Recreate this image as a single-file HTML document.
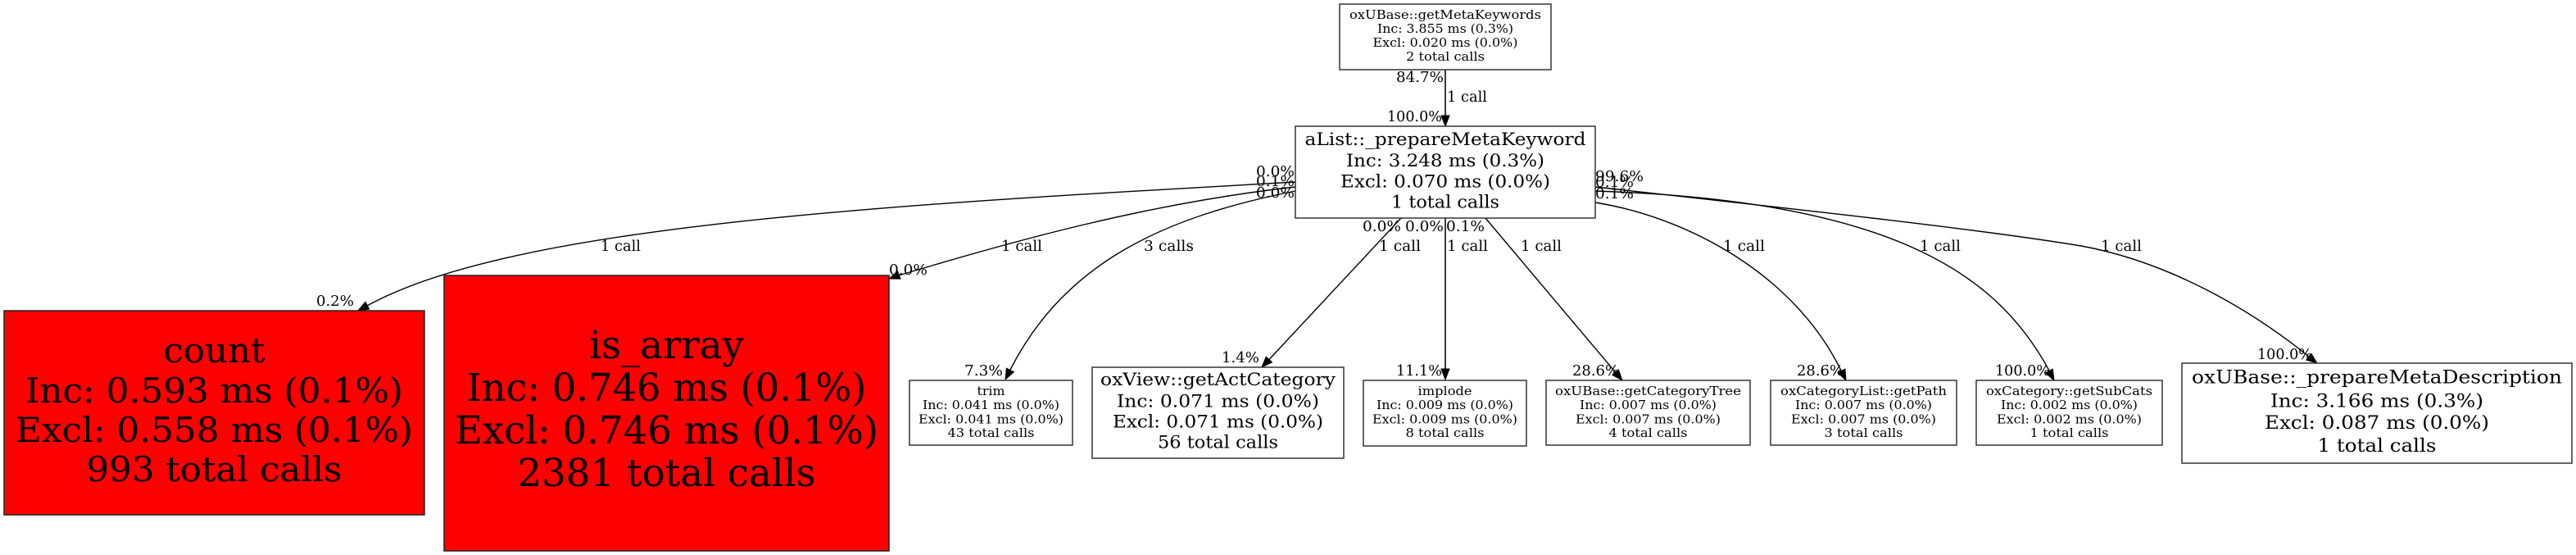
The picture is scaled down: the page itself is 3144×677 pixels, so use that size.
<!DOCTYPE html>
<html>
<head>
<meta charset="utf-8">
<style>
  html, body { margin: 0; padding: 0; background: #ffffff; }
  body { width: 3144px; height: 677px; overflow: hidden; }
  svg { display: block; }
  text { font-family: "DejaVu Serif", "Liberation Serif", serif; fill: #000; }
  .s { font-size: 14.5px; }
  .m { font-size: 21px; }
  .d { font-size: 22.5px; }
  .c { font-size: 42px; }
  .a { font-size: 47px; }
  .l { font-size: 17.5px; }
  .box { fill: #fff; stroke: #333; stroke-width: 1.5; }
  .red { fill: #ff0000; stroke: #222; stroke-width: 1.5; }
  .e { fill: none; stroke: #000; stroke-width: 1.4; }
  .ev { fill: none; stroke: #3a3a3a; stroke-width: 2; }
  .ah { fill: #000; stroke: #000; stroke-width: 1; }
</style>
</head>
<body>
<svg width="3144" height="677" viewBox="0 0 3144 677" xmlns="http://www.w3.org/2000/svg">
  <rect x="0" y="0" width="3144" height="677" fill="#fff"/>

  <!-- ===== Edges ===== -->
  <!-- top -> main -->
  <line class="ev" x1="1764" y1="85" x2="1764" y2="142"/>
  <polygon class="ah" points="1764,154 1759,141 1769,141"/>

  <!-- main -> count -->
  <path class="e" d="M1581,222 C1081,250 625,275 448,373"/>
  <polygon class="ah" points="437,379 450.8,377.1 446,368.3"/>

  <!-- main -> is_array -->
  <path class="e" d="M1581,228 C1400,248 1230,296 1097,336"/>
  <polygon class="ah" points="1085,340 1099,340.1 1095.5,330.7"/>

  <!-- main -> trim -->
  <path class="e" d="M1581,233 C1420,265 1300,320 1233,451"/>
  <polygon class="ah" points="1227,463 1237.4,453.7 1228.4,449.1"/>

  <!-- main -> oxView -->
  <line class="e" x1="1710" y1="266" x2="1549" y2="438.5"/>
  <polygon class="ah" points="1540,448 1552.5,441.9 1545.2,435.1"/>

  <!-- main -> implode -->
  <line class="ev" x1="1764" y1="266" x2="1764" y2="451"/>
  <polygon class="ah" points="1764,463 1759,450 1769,450"/>

  <!-- main -> getCategoryTree -->
  <line class="e" x1="1813" y1="266" x2="1971.6" y2="454.1"/>
  <polygon class="ah" points="1980,464 1975.4,450.9 1967.8,457.3"/>

  <!-- main -> getPath -->
  <path class="e" d="M1947,247 C2060,265 2190,335 2247,452"/>
  <polygon class="ah" points="2253,464 2251.9,450.1 2242.9,454.5"/>

  <!-- main -> getSubCats -->
  <path class="e" d="M1947,233 C2320,245 2440,340 2501,452"/>
  <polygon class="ah" points="2507,464 2505.3,450.2 2496.5,455"/>

  <!-- main -> _prepareMetaDescription -->
  <path class="e" d="M1947,228 C2200,256 2420,280 2540,300 C2650,320 2750,380 2818,435"/>
  <polygon class="ah" points="2828,443 2820.8,431.2 2814.7,439.1"/>

  <!-- ===== Nodes ===== -->
  <!-- getMetaKeywords -->
  <rect class="box" x="1635" y="5" width="258" height="80"/>
  <text class="s" x="1764" y="23" text-anchor="middle" textLength="234" lengthAdjust="spacingAndGlyphs">oxUBase::getMetaKeywords</text>
  <text class="s" x="1764" y="40" text-anchor="middle" textLength="166" lengthAdjust="spacingAndGlyphs">Inc: 3.855 ms (0.3%)</text>
  <text class="s" x="1764" y="57" text-anchor="middle" textLength="177" lengthAdjust="spacingAndGlyphs">Excl: 0.020 ms (0.0%)</text>
  <text class="s" x="1764" y="74" text-anchor="middle" textLength="96" lengthAdjust="spacingAndGlyphs">2 total calls</text>

  <!-- main -->
  <rect class="box" x="1581" y="154" width="366" height="112"/>
  <text class="m" x="1764" y="177" text-anchor="middle" textLength="343" lengthAdjust="spacingAndGlyphs">aList::_prepareMetaKeyword</text>
  <text class="m" x="1764" y="203" text-anchor="middle" textLength="242" lengthAdjust="spacingAndGlyphs">Inc: 3.248 ms (0.3%)</text>
  <text class="m" x="1764" y="228.5" text-anchor="middle" textLength="256" lengthAdjust="spacingAndGlyphs">Excl: 0.070 ms (0.0%)</text>
  <text class="m" x="1764" y="253.5" text-anchor="middle" textLength="132" lengthAdjust="spacingAndGlyphs">1 total calls</text>

  <!-- count -->
  <rect class="red" x="5" y="379" width="513" height="249"/>
  <text class="c" x="261.5" y="442" text-anchor="middle" textLength="124" lengthAdjust="spacingAndGlyphs">count</text>
  <text class="c" x="261.5" y="491" text-anchor="middle" textLength="461" lengthAdjust="spacingAndGlyphs">Inc: 0.593 ms (0.1%)</text>
  <text class="c" x="261.5" y="539" text-anchor="middle" textLength="485" lengthAdjust="spacingAndGlyphs">Excl: 0.558 ms (0.1%)</text>
  <text class="c" x="261.5" y="587" text-anchor="middle" textLength="312" lengthAdjust="spacingAndGlyphs">993 total calls</text>

  <!-- is_array -->
  <rect class="red" x="542" y="336" width="543" height="336"/>
  <text class="a" x="813.5" y="437" text-anchor="middle" textLength="189" lengthAdjust="spacingAndGlyphs">is_array</text>
  <text class="a" x="813.5" y="489" text-anchor="middle" textLength="488" lengthAdjust="spacingAndGlyphs">Inc: 0.746 ms (0.1%)</text>
  <text class="a" x="813.5" y="541" text-anchor="middle" textLength="517" lengthAdjust="spacingAndGlyphs">Excl: 0.746 ms (0.1%)</text>
  <text class="a" x="813.5" y="593" text-anchor="middle" textLength="364" lengthAdjust="spacingAndGlyphs">2381 total calls</text>

  <!-- trim -->
  <rect class="box" x="1110" y="464" width="199" height="79"/>
  <text class="s" x="1209.5" y="482" text-anchor="middle" textLength="34" lengthAdjust="spacingAndGlyphs">trim</text>
  <text class="s" x="1209.5" y="499" text-anchor="middle" textLength="167" lengthAdjust="spacingAndGlyphs">Inc: 0.041 ms (0.0%)</text>
  <text class="s" x="1209.5" y="516.5" text-anchor="middle" textLength="177" lengthAdjust="spacingAndGlyphs">Excl: 0.041 ms (0.0%)</text>
  <text class="s" x="1209.5" y="533" text-anchor="middle" textLength="106" lengthAdjust="spacingAndGlyphs">43 total calls</text>

  <!-- oxView::getActCategory -->
  <rect class="box" x="1333" y="448" width="307" height="111"/>
  <text class="m" x="1486.5" y="470" text-anchor="middle" textLength="287" lengthAdjust="spacingAndGlyphs">oxView::getActCategory</text>
  <text class="m" x="1486.5" y="496.5" text-anchor="middle" textLength="247" lengthAdjust="spacingAndGlyphs">Inc: 0.071 ms (0.0%)</text>
  <text class="m" x="1486.5" y="521.5" text-anchor="middle" textLength="257" lengthAdjust="spacingAndGlyphs">Excl: 0.071 ms (0.0%)</text>
  <text class="m" x="1486.5" y="546.5" text-anchor="middle" textLength="147" lengthAdjust="spacingAndGlyphs">56 total calls</text>

  <!-- implode -->
  <rect class="box" x="1664" y="464" width="199" height="80"/>
  <text class="s" x="1763.5" y="482" text-anchor="middle" textLength="66" lengthAdjust="spacingAndGlyphs">implode</text>
  <text class="s" x="1763.5" y="499" text-anchor="middle" textLength="167" lengthAdjust="spacingAndGlyphs">Inc: 0.009 ms (0.0%)</text>
  <text class="s" x="1763.5" y="516.5" text-anchor="middle" textLength="177" lengthAdjust="spacingAndGlyphs">Excl: 0.009 ms (0.0%)</text>
  <text class="s" x="1763.5" y="533" text-anchor="middle" textLength="96" lengthAdjust="spacingAndGlyphs">8 total calls</text>

  <!-- getCategoryTree -->
  <rect class="box" x="1887" y="464" width="249" height="79"/>
  <text class="s" x="2011.5" y="482" text-anchor="middle" textLength="227" lengthAdjust="spacingAndGlyphs">oxUBase::getCategoryTree</text>
  <text class="s" x="2011.5" y="499" text-anchor="middle" textLength="167" lengthAdjust="spacingAndGlyphs">Inc: 0.007 ms (0.0%)</text>
  <text class="s" x="2011.5" y="516.5" text-anchor="middle" textLength="177" lengthAdjust="spacingAndGlyphs">Excl: 0.007 ms (0.0%)</text>
  <text class="s" x="2011.5" y="533" text-anchor="middle" textLength="96" lengthAdjust="spacingAndGlyphs">4 total calls</text>

  <!-- getPath -->
  <rect class="box" x="2161" y="464" width="227" height="79"/>
  <text class="s" x="2274.5" y="482" text-anchor="middle" textLength="203" lengthAdjust="spacingAndGlyphs">oxCategoryList::getPath</text>
  <text class="s" x="2274.5" y="499" text-anchor="middle" textLength="167" lengthAdjust="spacingAndGlyphs">Inc: 0.007 ms (0.0%)</text>
  <text class="s" x="2274.5" y="516.5" text-anchor="middle" textLength="177" lengthAdjust="spacingAndGlyphs">Excl: 0.007 ms (0.0%)</text>
  <text class="s" x="2274.5" y="533" text-anchor="middle" textLength="96" lengthAdjust="spacingAndGlyphs">3 total calls</text>

  <!-- getSubCats -->
  <rect class="box" x="2412" y="464" width="227" height="79"/>
  <text class="s" x="2525.5" y="482" text-anchor="middle" textLength="203" lengthAdjust="spacingAndGlyphs">oxCategory::getSubCats</text>
  <text class="s" x="2525.5" y="499" text-anchor="middle" textLength="167" lengthAdjust="spacingAndGlyphs">Inc: 0.002 ms (0.0%)</text>
  <text class="s" x="2525.5" y="516.5" text-anchor="middle" textLength="177" lengthAdjust="spacingAndGlyphs">Excl: 0.002 ms (0.0%)</text>
  <text class="s" x="2525.5" y="533" text-anchor="middle" textLength="96" lengthAdjust="spacingAndGlyphs">1 total calls</text>

  <!-- _prepareMetaDescription -->
  <rect class="box" x="2663" y="443" width="476" height="122"/>
  <text class="d" x="2901" y="467.5" text-anchor="middle" textLength="452" lengthAdjust="spacingAndGlyphs">oxUBase::_prepareMetaDescription</text>
  <text class="d" x="2901" y="496.5" text-anchor="middle" textLength="260" lengthAdjust="spacingAndGlyphs">Inc: 3.166 ms (0.3%)</text>
  <text class="d" x="2901" y="523" text-anchor="middle" textLength="274" lengthAdjust="spacingAndGlyphs">Excl: 0.087 ms (0.0%)</text>
  <text class="d" x="2901" y="551" text-anchor="middle" textLength="145" lengthAdjust="spacingAndGlyphs">1 total calls</text>

  <!-- ===== Edge labels ===== -->
  <text class="l" x="1762" y="100" text-anchor="end" textLength="58" lengthAdjust="spacingAndGlyphs">84.7%</text>
  <text class="l" x="1766" y="124" textLength="49" lengthAdjust="spacingAndGlyphs">1 call</text>
  <text class="l" x="1760" y="148" text-anchor="end" textLength="67" lengthAdjust="spacingAndGlyphs">100.0%</text>

  <!-- left of main -->
  <text class="l" x="1580" y="215" text-anchor="end" textLength="47" lengthAdjust="spacingAndGlyphs">0.0%</text>
  <text class="l" x="1580" y="227" text-anchor="end" textLength="47" lengthAdjust="spacingAndGlyphs">0.1%</text>
  <text class="l" x="1580" y="241" text-anchor="end" textLength="47" lengthAdjust="spacingAndGlyphs">0.0%</text>

  <!-- right of main -->
  <text class="l" x="1947" y="221" textLength="59" lengthAdjust="spacingAndGlyphs">99.6%</text>
  <text class="l" x="1947" y="228" textLength="47" lengthAdjust="spacingAndGlyphs">0.1%</text>
  <text class="l" x="1947" y="242" textLength="47" lengthAdjust="spacingAndGlyphs">0.1%</text>

  <!-- bottom of main -->
  <text class="l" x="1663" y="282" textLength="47" lengthAdjust="spacingAndGlyphs">0.0%</text>
  <text class="l" x="1715" y="282" textLength="47" lengthAdjust="spacingAndGlyphs">0.0%</text>
  <text class="l" x="1765" y="282" textLength="47" lengthAdjust="spacingAndGlyphs">0.1%</text>

  <!-- call labels -->
  <text class="l" x="733" y="306" textLength="49" lengthAdjust="spacingAndGlyphs">1 call</text>
  <text class="l" x="1222" y="306" textLength="50" lengthAdjust="spacingAndGlyphs">1 call</text>
  <text class="l" x="1396" y="306" textLength="61" lengthAdjust="spacingAndGlyphs">3 calls</text>
  <text class="l" x="1683" y="306" textLength="51" lengthAdjust="spacingAndGlyphs">1 call</text>
  <text class="l" x="1766" y="306" textLength="50" lengthAdjust="spacingAndGlyphs">1 call</text>
  <text class="l" x="1856" y="306" textLength="50" lengthAdjust="spacingAndGlyphs">1 call</text>
  <text class="l" x="2103" y="306" textLength="51" lengthAdjust="spacingAndGlyphs">1 call</text>
  <text class="l" x="2343" y="306" textLength="50" lengthAdjust="spacingAndGlyphs">1 call</text>
  <text class="l" x="2564" y="306" textLength="50" lengthAdjust="spacingAndGlyphs">1 call</text>

  <!-- head labels -->
  <text class="l" x="386" y="373" textLength="46" lengthAdjust="spacingAndGlyphs">0.2%</text>
  <text class="l" x="1085" y="335" textLength="47" lengthAdjust="spacingAndGlyphs">0.0%</text>
  <text class="l" x="1177" y="458" textLength="47" lengthAdjust="spacingAndGlyphs">7.3%</text>
  <text class="l" x="1491" y="442" textLength="46" lengthAdjust="spacingAndGlyphs">1.4%</text>
  <text class="l" x="1704" y="458" textLength="56" lengthAdjust="spacingAndGlyphs">11.1%</text>
  <text class="l" x="1919" y="458" textLength="57" lengthAdjust="spacingAndGlyphs">28.6%</text>
  <text class="l" x="2193" y="458" textLength="57" lengthAdjust="spacingAndGlyphs">28.6%</text>
  <text class="l" x="2435" y="458" textLength="67" lengthAdjust="spacingAndGlyphs">100.0%</text>
  <text class="l" x="2755" y="438" textLength="67" lengthAdjust="spacingAndGlyphs">100.0%</text>
</svg>
</body>
</html>
